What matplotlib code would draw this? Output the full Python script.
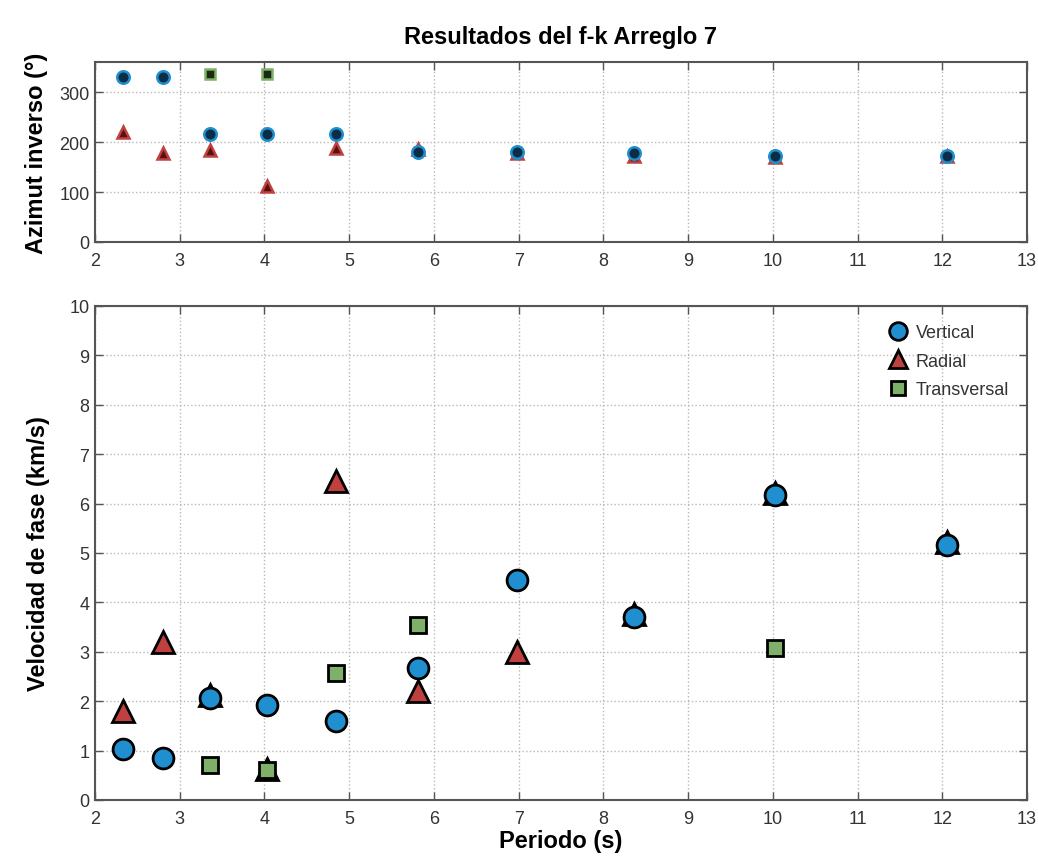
import numpy as np
import matplotlib
matplotlib.use("Agg")
import matplotlib.pyplot as plt

plt.rcParams['font.family'] = ['Liberation Sans', 'DejaVu Sans']

# Periods (s)
periodo = [2.33, 2.80, 3.36, 4.03, 4.84, 5.81, 6.98, 8.36, 10.03, 12.05]

# Back-azimuth (deg)
az_vertical = [330, 330, 217, 217, 217, 181, 181, 179, 173, 173]
az_radial = [220, 179, 185, 112, 189, 186, 178, 172, 170, 172]
az_transversal = [np.nan, np.nan, 337, 337, np.nan, np.nan, np.nan, np.nan, np.nan, np.nan]

# Phase velocity (km/s)
vel_vertical = [1.03, 0.85, 2.07, 1.93, 1.60, 2.67, 4.45, 3.70, 6.17, 5.17]
vel_radial = [1.80, 3.20, 2.12, 0.62, 6.45, 2.20, 3.00, 3.77, 6.22, 5.22]
vel_transversal = [np.nan, np.nan, 0.70, 0.60, 2.57, 3.55, np.nan, np.nan, 3.08, np.nan]

c_blue = '#1f8fd0'
c_red = '#c0403f'
c_green = '#7fb069'
c_blue_dk = '#0b2d45'
c_red_dk = '#5a1010'
c_green_dk = '#1a2a12'

fig = plt.figure(figsize=(10.38, 8.62), dpi=100)
ax1 = fig.add_axes([0.0915, 0.7181, 0.8979, 0.2088])
ax2 = fig.add_axes([0.0915, 0.0708, 0.8979, 0.5731])

def style(ax):
    ax.grid(True, linestyle=':', color='#b8b8b8', linewidth=1.0)
    ax.tick_params(direction='in', top=True, right=True, labelsize=13, length=6,
                   color='#555555', labelcolor='#333333', width=1.0)
    ax.tick_params(axis='x', pad=7)
    ax.tick_params(axis='y', pad=4)
    for s in ax.spines.values():
        s.set_color('#555555')
        s.set_linewidth(1.5)
    ax.set_axisbelow(True)

# Top panel
ax1.plot(periodo, az_radial, '^', color=c_red_dk, mec=c_red, mew=1.8, ms=9, zorder=3)
ax1.plot(periodo, az_transversal, 's', color=c_green_dk, mec=c_green, mew=1.8, ms=7, zorder=4)
ax1.plot(periodo, az_vertical, 'o', color=c_blue_dk, mec=c_blue, mew=1.8, ms=9, zorder=5)
ax1.set_xlim(2, 13)
ax1.set_ylim(0, 360)
ax1.set_xticks(range(2, 14))
ax1.set_yticks([0, 100, 200, 300])
ax1.set_ylabel('Azimut inverso (°)', fontsize=17, fontweight='bold', labelpad=8)
ax1.set_title('Resultados del f-k Arreglo 7', fontsize=17, fontweight='bold', pad=14)
style(ax1)

# Bottom panel
ax2.plot(periodo, vel_radial, '^', color=c_red, mec='black', mew=2, ms=16, zorder=3, label='Radial')
ax2.plot(periodo, vel_transversal, 's', color=c_green, mec='black', mew=2, ms=12, zorder=4, label='Transversal')
ax2.plot(periodo, vel_vertical, 'o', color=c_blue, mec='black', mew=2, ms=15, zorder=5, label='Vertical')
ax2.set_xlim(2, 13)
ax2.set_ylim(0, 10)
ax2.set_xticks(range(2, 14))
ax2.set_yticks(range(0, 11))
ax2.set_xlabel('Periodo (s)', fontsize=17, fontweight='bold', labelpad=2)
ax2.set_ylabel('Velocidad de fase (km/s)', fontsize=17, fontweight='bold', labelpad=14)
style(ax2)

h, l = ax2.get_legend_handles_labels()
order = [2, 0, 1]
leg = ax2.legend([h[i] for i in order], [l[i] for i in order], loc='upper right',
                 frameon=False, fontsize=13, markerscale=0.85, handletextpad=0.3,
                 labelspacing=0.65, borderaxespad=0.6, handlelength=1.4)
for t in leg.get_texts():
    t.set_color('#333333')

fig.savefig('out.png', dpi=100)
